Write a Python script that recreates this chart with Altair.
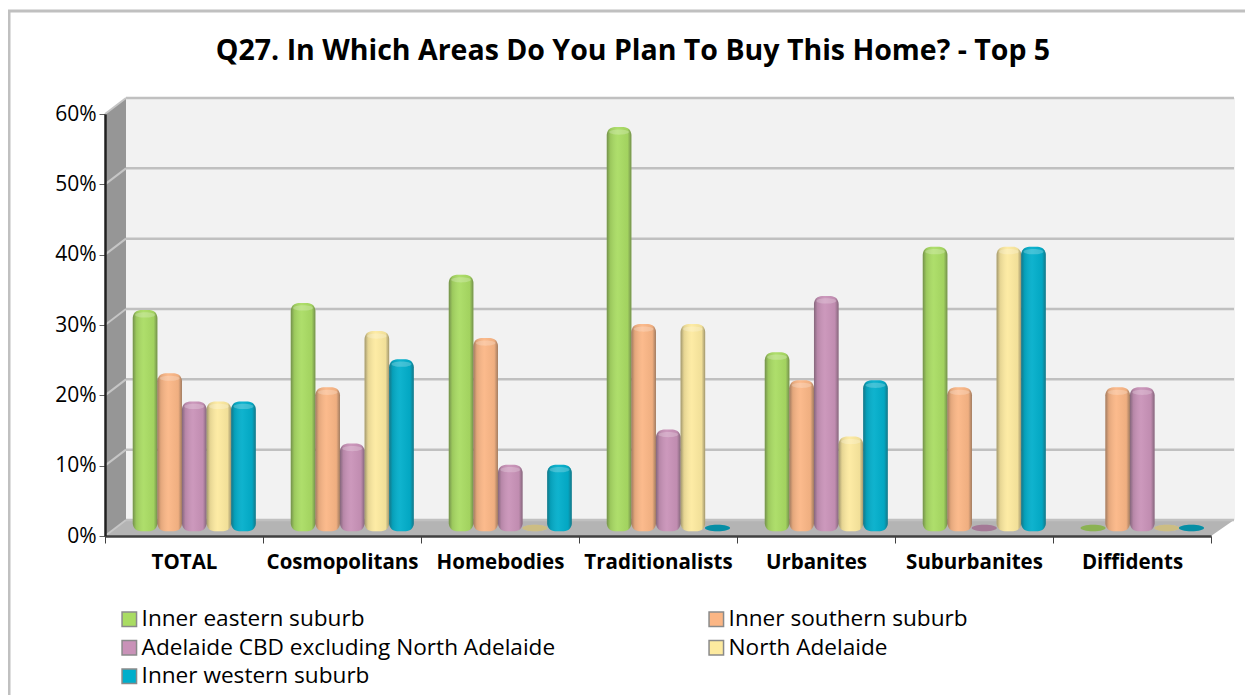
import altair as alt
import pandas as pd

categories = ["TOTAL", "Cosmopolitans", "Homebodies", "Traditionalists", "Urbanites", "Suburbanites", "Diffidents"]
series_names = ["Inner eastern suburb", "Inner southern suburb", "Adelaide CBD excluding North Adelaide", "North Adelaide", "Inner western suburb"]
legend_order = ["Inner eastern suburb", "Adelaide CBD excluding North Adelaide", "Inner western suburb", "Inner southern suburb", "North Adelaide"]
inner_eastern = [31, 32, 36, 57, 25, 40, 0]
inner_southern = [22, 20, 27, 29, 21, 20, 20]
adelaide_cbd = [18, 12, 9, 14, 33, 0, 20]
north_adelaide = [18, 28, 0, 29, 13, 40, 0]
inner_western = [18, 24, 9, 0, 21, 40, 0]
colors = ["#a9dc62", "#fbb685", "#c992b8", "#fdea9f", "#00aecb"]
ticks = [0, 10, 20, 30, 40, 50, 60]

rows = []
for name, vals in zip(series_names, [inner_eastern, inner_southern, adelaide_cbd, north_adelaide, inner_western]):
    for c, v in zip(categories, vals):
        rows.append({"cat": c, "series": name, "v": v, "base": -0.45})
df = pd.DataFrame(rows)
tick_df = pd.DataFrame({"pct": ticks})

W, H = 1106, 422
DX, DXR, DY = 21, 23, 16
FONT = "Open Sans"
BAR_X, BAR_Y = 10, 8
GROUP = 123

def px_area(points, color):
    d = pd.DataFrame(points, columns=["x", "y", "y2"])
    return alt.Chart(d).mark_area(color=color, orient="vertical", opacity=1).encode(
        x=alt.X("x:Q", scale=None, axis=None),
        y=alt.Y("y:Q", scale=None, axis=None),
        y2="y2:Q",
    )

back_wall = px_area([(DX, -DY, H - DY), (W + DXR + 1, -DY, H - DY)], "#f2f2f2")
left_wall = px_area([(0, 0, H), (DX, -DY, H - DY)], "#969696")
floor = px_area([(0, H, H), (DX, H - DY, H), (W, H - DY, H), (W + DXR, H - DY, H - DY)], "#b4b4b4")

# axes are carried by an invisible layer on the plain scales
axis_layer = alt.Chart(df).mark_point(opacity=0).encode(
    x=alt.X("cat:N", sort=categories, title=None,
            scale=alt.Scale(domain=categories, paddingInner=0, paddingOuter=0),
            axis=alt.Axis(labelFont=FONT, labelFontWeight="bold", labelFontSize=20.5, labelColor="#000000",
                          labelAngle=0, labelPadding=9, tickBand="extent", tickSize=7, tickColor="#404040",
                          tickWidth=1, domainColor="#404040", domainWidth=2.5, zindex=1, labelLimit=200, grid=False)),
    y=alt.Y("v:Q", title=None, scale=alt.Scale(domain=[0, 60]),
            axis=alt.Axis(values=ticks, labelExpr="datum.value + '%'", labelFont=FONT,
                          labelFontSize=21, labelColor="#000000", labelPadding=3, tickSize=6,
                          tickColor="#606060", tickWidth=1, domainColor="#202020", domainWidth=2.5,
                          zindex=1, grid=False)),
)

# bars sit half-way into the depth of the floor: same domains, shifted pixel ranges
x_enc = alt.X("cat:N", title=None, axis=None,
              scale=alt.Scale(domain=categories, paddingInner=0.225, paddingOuter=0.1125, range=[BAR_X, W + BAR_X]))
y_enc = alt.Y("v:Q", title=None, axis=None,
              scale=alt.Scale(domain=[0, 60], range=[H - BAR_Y, -BAR_Y], clamp=False))
off_enc = alt.XOffset("series:N",
                      scale=alt.Scale(domain=series_names, paddingInner=0, paddingOuter=0, range=[0, GROUP]))
col_enc = alt.Color("series:N", title=None,
                    scale=alt.Scale(domain=series_names, range=colors),
                    legend=alt.Legend(orient="none", legendX=13, legendY=494, columns=2, symbolType="square",
                                      values=legend_order,
                                      symbolSize=210, symbolStrokeColor="#8a8a8a", symbolStrokeWidth=1.5,
                                      symbolOpacity=1, labelFont=FONT, labelFontSize=22.6, labelColor="#000000",
                                      labelLimit=600, columnPadding=149, rowPadding=5.5, labelOffset=1,
                                      gridAlign="all", padding=0))

grid_back = alt.Chart(tick_df).mark_rule(color="#c0c0c0", strokeWidth=2.5, yOffset=-DY).encode(
    x=alt.value(DX), x2=alt.value(W + DXR),
    y=alt.Y("pct:Q", scale=alt.Scale(domain=[0, 60]), axis=None),
)
grid_side = alt.Chart(tick_df).mark_rule(color="#c6c6c6", strokeWidth=2).encode(
    x=alt.value(0), x2=alt.value(DX),
    y=alt.Y("pct:Q", scale=alt.Scale(domain=[0, 60]), axis=None),
    y2=alt.Y2("top:Q"),
).transform_calculate(top="datum.pct + 16 * 60 / 422")

nonzero = df[df.v > 0]
zero = df[df.v == 0]

bars = alt.Chart(nonzero).mark_bar(cornerRadius=8).encode(
    x=x_enc, y=y_enc, y2="base:Q", xOffset=off_enc, color=col_enc)

shade = alt.Chart(nonzero).mark_bar(
    cornerRadius=8,
    color=alt.Gradient(gradient="linear", x1=0, x2=1, y1=0, y2=0, stops=[
        alt.GradientStop(offset=0, color="rgba(50,50,50,0.45)"),
        alt.GradientStop(offset=0.14, color="rgba(50,50,50,0.12)"),
        alt.GradientStop(offset=0.45, color="rgba(255,255,255,0.06)"),
        alt.GradientStop(offset=0.85, color="rgba(50,50,50,0.06)"),
        alt.GradientStop(offset=1, color="rgba(50,50,50,0.45)"),
    ])).encode(x=x_enc, y=y_enc, y2="base:Q", xOffset=off_enc)

ELLIPSE = "M-1,0A1,0.26,0,1,1,1,0A1,0.26,0,1,1,-1,0Z"
caps = alt.Chart(nonzero).mark_point(shape=ELLIPSE, filled=True, size=400, opacity=0.22, color="#ffffff",
                                     yOffset=5).encode(
    x=x_enc, y=y_enc, xOffset=off_enc)

zero_fill = alt.Chart(zero).mark_point(shape=ELLIPSE, filled=True, size=625, opacity=1).encode(
    x=x_enc, y=y_enc, xOffset=off_enc, color=col_enc)
zero_dark = alt.Chart(zero).mark_point(shape=ELLIPSE, filled=True, size=625, opacity=0.22, color="#202020").encode(
    x=x_enc, y=y_enc, xOffset=off_enc)

frame_top = alt.Chart(tick_df.head(1)).mark_rule(color="#c0c0c0", strokeWidth=3).encode(
    x=alt.value(-97), x2=alt.value(1140), y=alt.value(-103))
frame_left = alt.Chart(tick_df.head(1)).mark_rule(color="#c0c0c0", strokeWidth=3).encode(
    x=alt.value(-96), y=alt.value(-103), y2=alt.value(581))

chart = alt.layer(
    frame_top, frame_left, back_wall, left_wall, floor, grid_back, grid_side, axis_layer,
    zero_fill, zero_dark, bars, shade, caps,
).resolve_scale(x="independent", y="independent").properties(
    width=W, height=H,
    title=alt.TitleParams("Q27. In Which Areas Do You Plan To Buy This Home? - Top 5", font=FONT, fontSize=28.5,
                          fontWeight="bold", color="#000000", anchor="middle", dx=-25, offset=-56),
    autosize=alt.AutoSizeParams(type="none"),
    padding={"left": 97, "top": 106, "right": 34, "bottom": 159},
).configure_view(stroke=None).configure(background="white")

chart.save("out.html", embed_options={"renderer": "svg", "actions": False})
